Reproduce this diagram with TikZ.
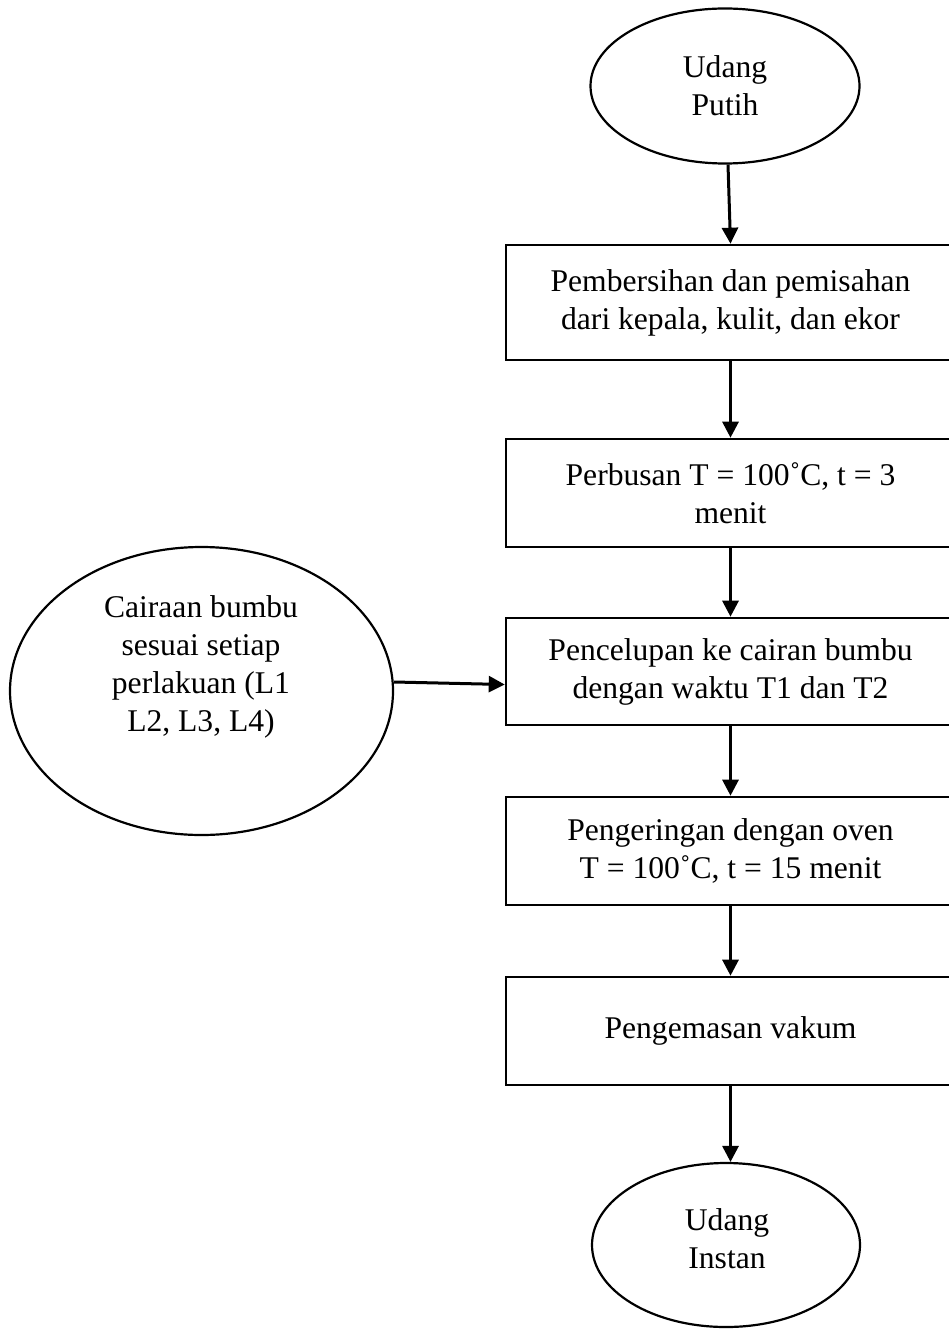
\documentclass[tikz,border=0pt]{standalone}
\usepackage{fontspec}
\setmainfont{Liberation Serif}
\usetikzlibrary{arrows.meta,shapes.geometric}
\newcommand{\ringdeg}{\char"02DA\relax}
\begin{document}
\begin{tikzpicture}[x=1pt,y=-1pt,
  every node/.style={font=\fontsize{31.6}{38}\selectfont, align=center},
  procbox/.style={draw, line width=2.6pt, minimum width=449pt, inner sep=0pt},
  oval/.style={draw, ellipse, line width=2.2pt, inner sep=0pt},
  flow/.style={line width=3pt, -{Triangle[width=16pt,length=16pt]}}
]
\useasboundingbox (0,0) rectangle (949,1329);
\clip (0,0) rectangle (949,1329);
\fill[white] (0,0) rectangle (949,1329);

\node[oval, minimum width=269pt, minimum height=155pt] (start) at (725,86) {Udang\\Putih};

\node[procbox, minimum height=115pt] (b1) at (730.5,302.5) {Pembersihan dan pemisahan\\dari kepala, kulit, dan ekor};
\node[procbox, minimum height=108pt] (b2) at (730.5,493) {Perbusan T = 100\ringdeg C, t = 3\\menit};
\node[procbox, minimum height=107pt] (b3) at (730.5,671.5) {Pencelupan ke cairan bumbu\\dengan waktu T1 dan T2};
\node[procbox, minimum height=108pt] (b4) at (730.5,851) {Pengeringan dengan oven\\T = 100\ringdeg C, t = 15 menit};
\node[procbox, minimum height=108pt] (b5) at (730.5,1031) {Pengemasan vakum};

\node[oval, minimum width=268pt, minimum height=164pt] (end) at (726,1245) {};
\node (endtext) at (727,1239) {Udang\\Instan};

\node[oval, minimum width=383pt, minimum height=288pt] (bumbu) at (201.5,691) {};
\node (bumbutext) at (201,667) {Cairaan bumbu\\sesuai setiap\\perlakuan (L1\\L2, L3, L4)};

\draw[flow] (start.south) ++(3,0) -- (b1.north);
\draw[flow] (b1.south) -- (b2.north);
\draw[flow] (b2.south) -- (b3.north);
\draw[flow] (b3.south) -- (b4.north);
\draw[flow] (b4.south) -- (b5.north);
\draw[flow] (b5.south) -- (b5.south |- end.north);
\draw[flow] ([yshift=9pt]bumbu.east) -- ([yshift=-13pt]b3.west);
\end{tikzpicture}
\end{document}
